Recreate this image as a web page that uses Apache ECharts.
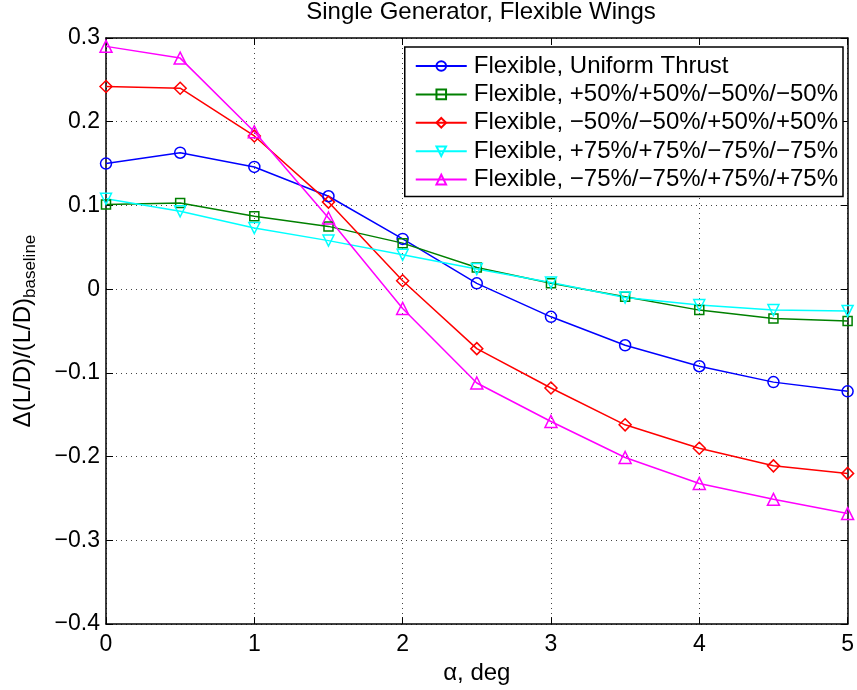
<!DOCTYPE html>
<html><head><meta charset="utf-8">
<script src="https://cdn.jsdelivr.net/npm/echarts@6/dist/echarts.min.js"></script>
<style>html,body{margin:0;padding:0;background:#fff}#c{width:857px;height:690px}</style>
</head><body><div id="c"></div>
<script>
const alpha = [0, 0.5, 1, 1.5, 2, 2.5, 3, 3.5, 4, 4.5, 5];
const seriesNames = [
  'Flexible, Uniform Thrust',
  'Flexible, +50%/+50%/\u221250%/\u221250%',
  'Flexible, \u221250%/\u221250%/+50%/+50%',
  'Flexible, +75%/+75%/\u221275%/\u221275%',
  'Flexible, \u221275%/\u221275%/+75%/+75%'
];
const uniform = [0.150, 0.163, 0.146, 0.111, 0.060, 0.007, -0.033, -0.067, -0.092, -0.111, -0.122];
const p50 = [0.101, 0.103, 0.087, 0.075, 0.055, 0.026, 0.007, -0.009, -0.025, -0.035, -0.038];
const m50 = [0.242, 0.240, 0.183, 0.104, 0.010, -0.071, -0.118, -0.162, -0.190, -0.211, -0.220];
const p75 = [0.108, 0.093, 0.073, 0.058, 0.041, 0.024, 0.008, -0.010, -0.019, -0.025, -0.026];
const m75 = [0.290, 0.276, 0.188, 0.085, -0.023, -0.112, -0.158, -0.201, -0.232, -0.251, -0.268];
const yTicks = [-0.4, -0.3, -0.2, -0.1, 0, 0.1, 0.2, 0.3];
const xTicks = [0, 1, 2, 3, 4, 5];

const colors = ['#0000ff', '#008000', '#ff0000', '#00ffff', '#ff00ff'];
const symbols = ['circle', 'rect', 'diamond', 'triangle', 'triangle'];
const rotates = [0, 0, 0, 180, 0];
const sizes = [11, 9, 12, 11, 12];
const datas = [uniform, p50, m50, p75, m75];
const font = 'Liberation Sans, Arial, Helvetica, sans-serif';
const fmt = v => {
  if (Math.abs(v) < 1e-9) return '0';
  const s = (Math.round(v * 10) / 10).toString();
  return s.replace('-', '\u2212');
};

const series = datas.map((d, i) => ({
  name: seriesNames[i],
  type: 'line',
  data: alpha.map((a, j) => [a, d[j]]),
  symbol: symbols[i],
  symbolSize: sizes[i],
  symbolRotate: rotates[i],
  showAllSymbol: true,
  lineStyle: { color: colors[i], width: 1.5 },
  itemStyle: { color: '#ffffff00', borderColor: colors[i], borderWidth: 1.5 },
  emphasis: { disabled: true },
  animation: false,
  z: 3
}));

const tickStyle = { show: true, inside: true, length: 7, lineStyle: { color: '#000', width: 1 } };
const lineStyleAx = { color: '#000', width: 1.5 };
const gridDots = { show: true, lineStyle: { color: '#444', type: [1, 4], width: 1 } };

const chart = echarts.init(document.getElementById('c'), null, { renderer: 'canvas' });
chart.setOption({
  animation: false,
  backgroundColor: '#fff',
  title: {
    text: 'Single Generator, Flexible Wings',
    left: 481, top: 0, textAlign: 'center', padding: 0,
    textStyle: { fontFamily: font, fontWeight: 'normal', fontSize: 24, color: '#000' }
  },
  grid: { left: 106, top: 38, right: 7, bottom: 64, show: false },
  legend: {
    right: 14, top: 47,
    orient: 'vertical',
    backgroundColor: '#fff',
    borderColor: '#000', borderWidth: 1.5, borderRadius: 0,
    padding: [7, 5, 5, 10],
    itemGap: 4.4,
    itemWidth: 51, itemHeight: 12,
    textStyle: { fontFamily: font, fontSize: 24, color: '#000', padding: [0, 0, 0, 2] },
    data: seriesNames.map(n => ({ name: n }))
  },
  xAxis: [{
    type: 'value', min: 0, max: 5, interval: 1, position: 'bottom',
    axisLine: { show: true, onZero: false, lineStyle: lineStyleAx },
    axisTick: tickStyle,
    axisLabel: { fontFamily: font, fontSize: 23, color: '#000', margin: 9, formatter: fmt },
    splitLine: gridDots,
    name: '\u03b1, deg', nameLocation: 'middle', nameGap: 20,
    nameTextStyle: { fontFamily: font, fontSize: 24, color: '#000', verticalAlign: 'top' }
  }, {
    type: 'value', min: 0, max: 5, interval: 1, position: 'top',
    axisLine: { show: true, onZero: false, lineStyle: lineStyleAx },
    axisTick: tickStyle,
    axisLabel: { show: false }, splitLine: { show: false }
  }],
  yAxis: [{
    type: 'value', min: -0.4, max: 0.3, interval: 0.1, position: 'left',
    axisLine: { show: true, onZero: false, lineStyle: lineStyleAx },
    axisTick: tickStyle,
    axisLabel: { fontFamily: font, fontSize: 23, color: '#000', margin: 6, formatter: fmt },
    splitLine: gridDots,
    name: '{a|\u0394(L/D)/(L/D)}{b|baseline}', nameLocation: 'middle', nameGap: 67, nameRotate: 90,
    nameTextStyle: {
      rich: {
        a: { fontFamily: font, fontSize: 24, color: '#000' },
        b: { fontFamily: font, fontSize: 17, color: '#000', verticalAlign: 'bottom', padding: [14, 0, 0, 0] }
      }
    }
  }, {
    type: 'value', min: -0.4, max: 0.3, interval: 0.1, position: 'right',
    axisLine: { show: true, onZero: false, lineStyle: lineStyleAx },
    axisTick: tickStyle,
    axisLabel: { show: false }, splitLine: { show: false }
  }],
  series: series
});
</script>
</body></html>
